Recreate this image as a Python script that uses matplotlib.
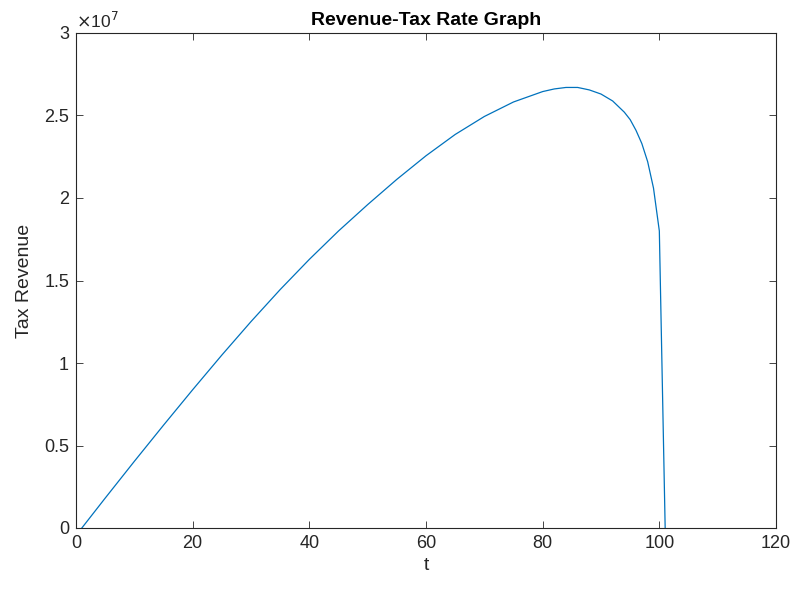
import matplotlib
matplotlib.use("Agg")
import matplotlib.pyplot as plt
from matplotlib.ticker import FuncFormatter

# Data
tax_rate = [1, 5, 10, 15, 20, 25, 30, 35, 40, 45, 50, 55, 60, 65, 70, 75, 80,
            82, 84, 86, 88, 90, 92, 94, 95, 96, 97, 98, 99, 100, 101]
revenue_e7 = [0.0, 0.181, 0.404, 0.623, 0.838, 1.048, 1.251, 1.445, 1.628,
              1.800, 1.960, 2.113, 2.256, 2.385, 2.494, 2.582, 2.645,
              2.661, 2.670, 2.670, 2.655, 2.630, 2.588, 2.520, 2.475, 2.410,
              2.330, 2.220, 2.060, 1.800, 0.0]
revenue = [v * 1e7 for v in revenue_e7]

x_ticks = [0, 20, 40, 60, 80, 100, 120]
y_ticks = [0, 0.5e7, 1e7, 1.5e7, 2e7, 2.5e7, 3e7]

plt.rcParams['font.family'] = ['Liberation Sans', 'DejaVu Sans']
axcol = '#262626'

fig = plt.figure(figsize=(7.99, 5.90), dpi=100)
ax = fig.add_axes([76/799, 1-528/590, 700/799, 495/590])

ax.plot(tax_rate, revenue, color='#0072BD', linewidth=0.9)

ax.set_xlim(0, 120)
ax.set_ylim(0, 3e7)
ax.set_xticks(x_ticks)
ax.set_yticks(y_ticks)
ax.yaxis.set_major_formatter(FuncFormatter(lambda v, p: f"{v/1e7:g}"))

ax.tick_params(direction='in', length=5, width=0.6, colors=axcol,
               labelsize=13, top=True, right=True, pad=5)
for s in ax.spines.values():
    s.set_color(axcol)
    s.set_linewidth(0.8)

ax.set_xlabel('t', fontsize=14, color=axcol, labelpad=4)
ax.set_ylabel('Tax Revenue', fontsize=14, color=axcol, labelpad=8)
ax.set_title('Revenue-Tax Rate Graph', fontsize=14, fontweight='bold',
             color='black', pad=6)
ax.text(0.0, 1.005, r'$\times$10$^{7}$', transform=ax.transAxes,
        fontsize=12.5, color=axcol, ha='left', va='bottom')

fig.savefig('out.png', dpi=100)
